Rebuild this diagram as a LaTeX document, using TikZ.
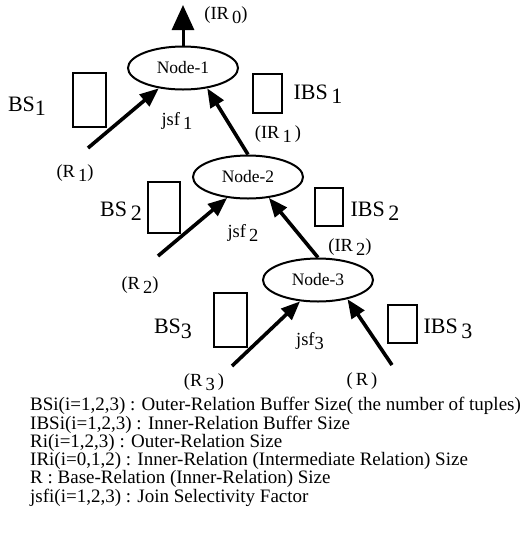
\documentclass[tikz,border=0pt]{standalone}
\usepackage{fontspec}
\setmainfont{Liberation Serif}
\usetikzlibrary{arrows.meta,shapes.geometric}
\newcommand{\subnum}[1]{\raisebox{-0.45ex}{#1}}

\begin{document}
\begin{tikzpicture}[x=1pt,y=-1pt,
    joinnode/.style={ellipse,draw,line width=2pt,minimum width=110pt,minimum height=43pt,inner sep=0pt,font=\fontsize{17.5}{17.5}\selectfont},
    bufbox/.style={draw,line width=2.2pt,inner sep=0pt},
    flow/.style={line width=3.6pt,-{Triangle[length=19pt,width=15pt]}},
    lab/.style={font=\fontsize{18.5}{18.5}\selectfont,inner sep=0pt},
    biglab/.style={font=\fontsize{22}{22}\selectfont,inner sep=0pt}]
  \useasboundingbox (0,0) rectangle (526,550);
  % join nodes
  \node[joinnode] (n1) at (183,68) {Node-1};
    \node[joinnode] (n2) at (248,177) {Node-2};
    \node[joinnode] (n3) at (318,280) {Node-3};
  % buffers
  \node[bufbox,minimum width=33pt,minimum height=54pt] (bs1) at (89.5,100) {};
    \node[bufbox,minimum width=29pt,minimum height=39pt] (ibs1) at (267.5,93.5) {};
    \node[bufbox,minimum width=32pt,minimum height=51pt] (bs2) at (164,207.5) {};
    \node[bufbox,minimum width=28pt,minimum height=38pt] (ibs2) at (329,207) {};
    \node[bufbox,minimum width=33pt,minimum height=54pt] (bs3) at (230.5,320) {};
    \node[bufbox,minimum width=29pt,minimum height=38pt] (ibs3) at (402.5,324) {};
  % labels
  \node[biglab] (bs1l) at (27,106) {BS\subnum{1}};
    \node[biglab] (bs2l) at (121,211) {BS\,\subnum{2}};
    \node[biglab] (bs3l) at (173,329) {BS\subnum{3}};
    \node[biglab] (ibs1l) at (318,94) {IBS\,\subnum{1}};
    \node[biglab] (ibs2l) at (375,211) {IBS\,\subnum{2}};
    \node[biglab] (ibs3l) at (448,329) {IBS\,\subnum{3}};
    \node[lab] (jsf1) at (177,121) {jsf\,\subnum{1}};
    \node[lab] (jsf2) at (243,233) {jsf\,\subnum{2}};
    \node[lab] (jsf3) at (310,341) {jsf\subnum{3}};
    \node[lab] (ir0) at (226,15) {(IR\,\subnum{0})};
    \node[lab] (ir1) at (278,134) {(IR\,\subnum{1}\,)};
    \node[lab] (ir2) at (350,247) {(IR\,\subnum{2})};
    \node[lab] (r1) at (75,173) {(R\,\subnum{1})};
    \node[lab] (r2) at (140,285) {(R\,\subnum{2})};
    \node[lab] (r3) at (204,382) {(R\,\subnum{3}\,)};
    \node[lab] (r) at (362,381) {(\,R\,)};
  % arrow ends
  \coordinate (out) at (183,5);
    \coordinate (r1t) at (88,148);
    \coordinate (r2t) at (158,256);
    \coordinate (r3t) at (232,366);
    \coordinate (rt) at (392,365);
  \draw[line width=3pt,-{Triangle[length=25pt,width=22pt]}] (n1.north) -- (out);
    \draw[flow] (r1t) -- (n1.-140);
    \draw[flow] (n2.north) -- (n1.-40);
    \draw[flow] (r2t) -- (n2.-135);
    \draw[flow] (n3.north) -- (n2.-45);
    \draw[flow] (r3t) -- (n3.-130);
    \draw[flow] (rt) -- (n3.-33);
  % legend
  \node[anchor=north west,align=left,inner sep=0pt,font=\fontsize{19}{17}\selectfont] (legend) at (30,397) {BSi(i=1,2,3) : Outer-Relation Buffer Size( the number of tuples)\\
    IBSi(i=1,2,3) : Inner-Relation Buffer Size\\
    Ri(i=1,2,3) : Outer-Relation Size\\
    IRi(i=0,1,2) : Inner-Relation (Intermediate Relation) Size\\
    R : Base-Relation (Inner-Relation) Size\\
    jsfi(i=1,2,3) : Join Selectivity Factor};
\end{tikzpicture}
\end{document}
